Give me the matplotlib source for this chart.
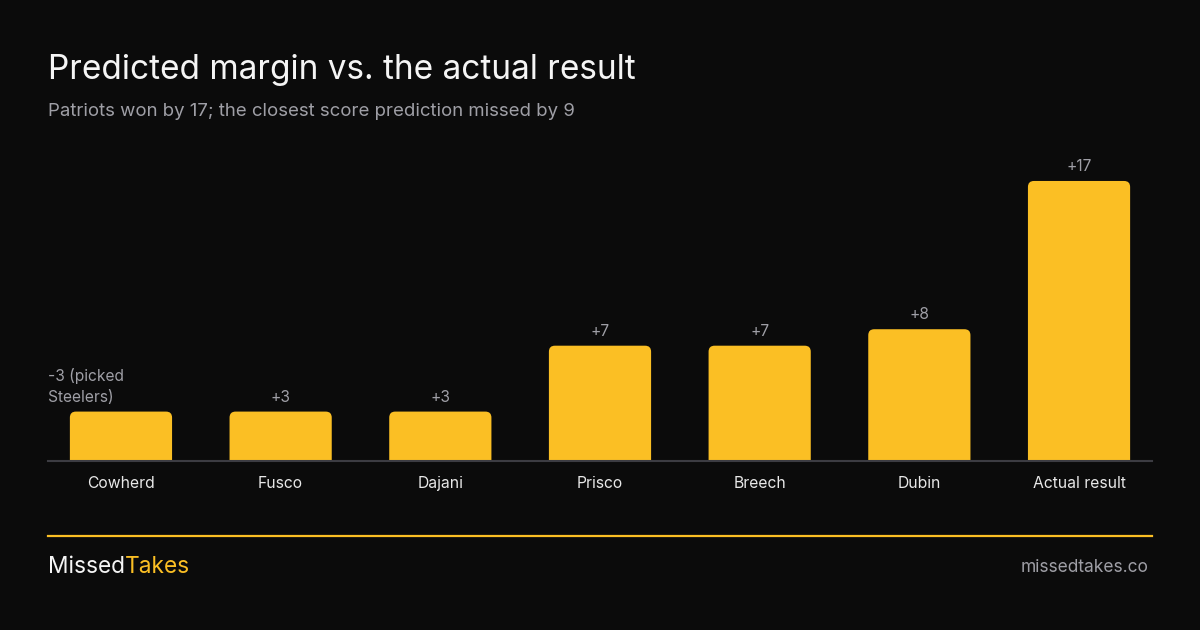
import matplotlib.pyplot as plt
from matplotlib.patches import FancyBboxPatch

plt.rcParams['font.family'] = ['Inter', 'DejaVu Sans']

names = ["Cowherd", "Fusco", "Dajani", "Prisco", "Breech", "Dubin", "Actual result"]
margins = [-3, 3, 3, 7, 7, 8, 17]
labels = ["-3 (picked\nSteelers)", "+3", "+3", "+7", "+7", "+8", "+17"]

bg = "#0b0b0b"
yellow = "#fbbf24"
grey = "#9f9fa6"

fig = plt.figure(figsize=(12, 6.3), dpi=100, facecolor=bg)
ax = fig.add_axes([0.04, 169 / 630, 0.92, 311 / 630])
ax.set_facecolor(bg)

x = list(range(len(names)))
heights = [abs(m) for m in margins]
bars = ax.bar(x, heights, width=0.64, color=yellow)
ax.set_xlim(-0.457, len(names) - 1 + 0.457)
ax.set_ylim(0, 18.88)

# rounded tops: draw a rounded box that starts below the axis and gets clipped
fig.canvas.draw()
px_x = ax.transData.transform((1, 0))[0] - ax.transData.transform((0, 0))[0]
px_y = ax.transData.transform((0, 1))[1] - ax.transData.transform((0, 0))[1]
r = 6 / px_x
aspect = px_x / px_y
for b in bars:
    bx, bw, bh = b.get_x(), b.get_width(), b.get_height()
    b.set_visible(False)
    low = -10 / px_y
    ax.add_patch(FancyBboxPatch((bx, low), bw, bh - low,
                                boxstyle=f"round,pad=0,rounding_size={r}",
                                mutation_aspect=aspect, fc=yellow, ec="none", zorder=1))

for i, (b, lab) in enumerate(zip(bars, labels)):
    if i == 0:
        ax.annotate(lab, xy=(ax.get_xlim()[0], b.get_height()), xytext=(0, 5),
                    textcoords="offset points", ha="left", va="bottom",
                    color=grey, fontsize=11.2, linespacing=1.45)
    else:
        ax.annotate(lab, xy=(b.get_x() + b.get_width() / 2, b.get_height()), xytext=(0, 5),
                    textcoords="offset points", ha="center", va="bottom",
                    color=grey, fontsize=11.2)

ax.set_xticks(x)
ax.set_xticklabels(names, color="#e8e8e8", fontsize=11.3)
ax.tick_params(axis="x", length=0, pad=11)
ax.set_yticks([])
for s in ["top", "right", "left"]:
    ax.spines[s].set_visible(False)
ax.spines["bottom"].set_color("#3c3c42")
ax.spines["bottom"].set_linewidth(1.5)
ax.spines["bottom"].set_zorder(3)

fig.text(48 / 1200, 1 - 70 / 630, "Predicted margin vs. the actual result",
         color="#f5f5f5", fontsize=24, va="center", ha="left")
fig.text(48 / 1200, 1 - 111 / 630, "Patriots won by 17; the closest score prediction missed by 9",
         color=grey, fontsize=13.4, va="center", ha="left")

fig.add_artist(plt.Line2D([48 / 1200, 1152 / 1200], [1 - 536 / 630, 1 - 536 / 630],
                          color=yellow, lw=1.6))
t1 = fig.text(48 / 1200, 1 - 567 / 630, "Missed", color="#f5f5f5", fontsize=16.3,
              va="center", ha="left")
ax.annotate("Takes", xy=(1, 0.5), xycoords=t1, ha="left", va="center",
            color=yellow, fontsize=16.3)
fig.text(1148 / 1200, 1 - 567 / 630, "missedtakes.co", color=grey, fontsize=12.5,
         va="center", ha="right")

fig.savefig("out.png", dpi=100, facecolor=bg)
